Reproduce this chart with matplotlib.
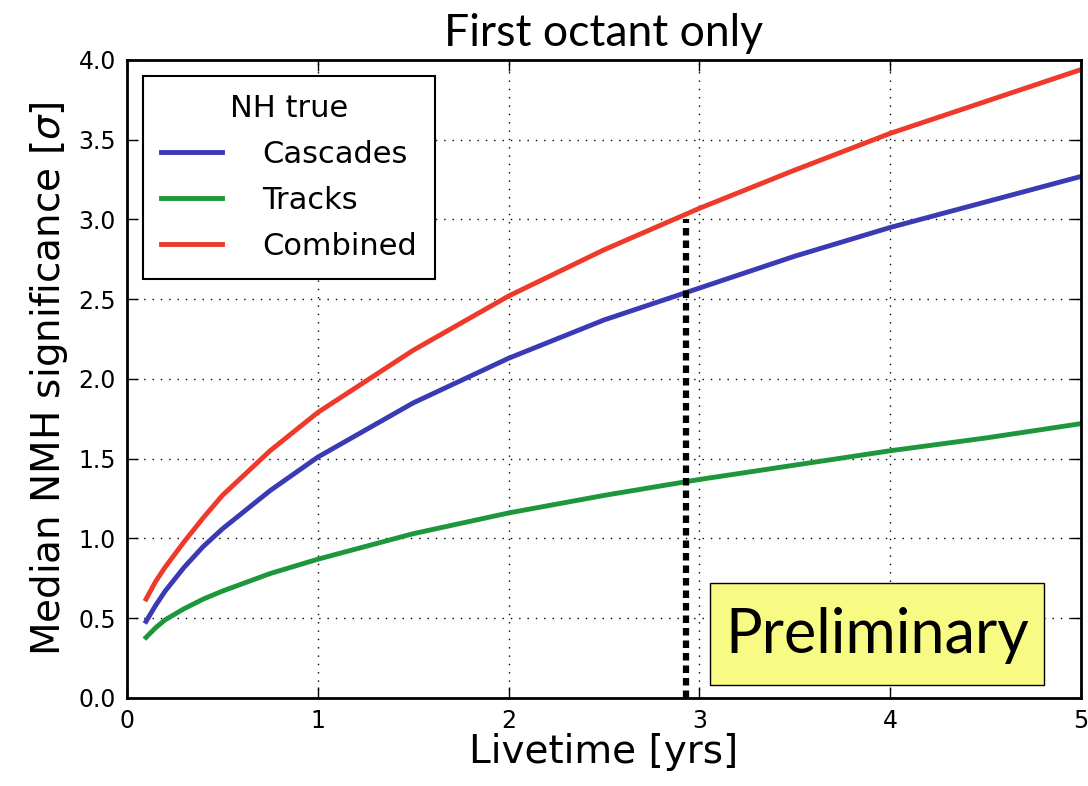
import numpy as np
import matplotlib.pyplot as plt
from matplotlib.patches import Rectangle

# -------------------------
# NMH significance vs livetime (first octant)
# -------------------------
livetime = [0.1, 0.15, 0.2, 0.3, 0.4, 0.5, 0.75, 1.0, 1.5, 2.0, 2.5, 3.0, 3.5, 4.0, 4.5, 5.0]
cascades = [0.48, 0.58, 0.67, 0.82, 0.95, 1.06, 1.30, 1.51, 1.85, 2.13, 2.37, 2.57, 2.77, 2.95, 3.11, 3.27]
tracks   = [0.38, 0.44, 0.49, 0.56, 0.62, 0.67, 0.78, 0.87, 1.03, 1.16, 1.27, 1.37, 1.46, 1.55, 1.63, 1.72]
combined = [0.62, 0.73, 0.82, 0.98, 1.13, 1.27, 1.55, 1.79, 2.18, 2.52, 2.81, 3.07, 3.31, 3.54, 3.74, 3.94]

marker_x = 2.93   # livetime where combined reaches 3 sigma
marker_y = 3.0

title_font = 'Lato'

fig = plt.figure(figsize=(10.88, 7.86), dpi=100)
ax = fig.add_axes([0.1167, 0.112, 0.877, 0.8117])

ax.plot(livetime, cascades, color='#3a3ab4', lw=3.5, label='Cascades')
ax.plot(livetime, tracks, color='#1e963c', lw=3.5, label='Tracks')
ax.plot(livetime, combined, color='#ee3a2a', lw=3.5, label='Combined')

ax.plot([marker_x, marker_x], [0, marker_y], color='black', lw=4.5,
        linestyle=(0, (1.2, 0.8)), zorder=4)

ax.set_xlim(0, 5)
ax.set_ylim(0, 4)
ax.set_xticks(np.arange(0, 6, 1))
ax.set_yticks(np.arange(0, 4.01, 0.5))
ax.set_yticklabels([f"{v:.1f}" for v in np.arange(0, 4.01, 0.5)])
ax.tick_params(direction='in', length=8, width=1, labelsize=17,
               top=True, right=True, pad=8)
for s in ax.spines.values():
    s.set_linewidth(2)
ax.grid(True, color='black', linestyle=(0, (1, 5)), lw=1)

ax.set_title("First octant only", fontsize=32, family=title_font, pad=10)
ax.set_xlabel("Livetime [yrs]", fontsize=28, labelpad=0)
ax.set_ylabel(r"Median NMH significance [$\sigma$]", fontsize=28, labelpad=6)

leg = ax.legend(title="NH true", loc='upper left', fontsize=22,
                title_fontsize=22, frameon=True, fancybox=False,
                handlelength=2.0, handletextpad=1.3, borderpad=0.6,
                labelspacing=0.55, borderaxespad=0,
                bbox_to_anchor=(0.0168, 0.975))
leg.get_frame().set_edgecolor('black')
leg.get_frame().set_linewidth(1.5)
leg.get_frame().set_alpha(1)

# "Preliminary" stamp
ax.add_patch(Rectangle((0.6115, 0.0204), 0.3498, 0.1596, transform=ax.transAxes,
                       fc='#f7fb84', ec='black', lw=1, zorder=5))
ax.text(0.786, 0.098, "Preliminary", transform=ax.transAxes, fontsize=44,
        family=title_font, ha='center', va='center', zorder=6)

fig.savefig('out.png', dpi=100)
